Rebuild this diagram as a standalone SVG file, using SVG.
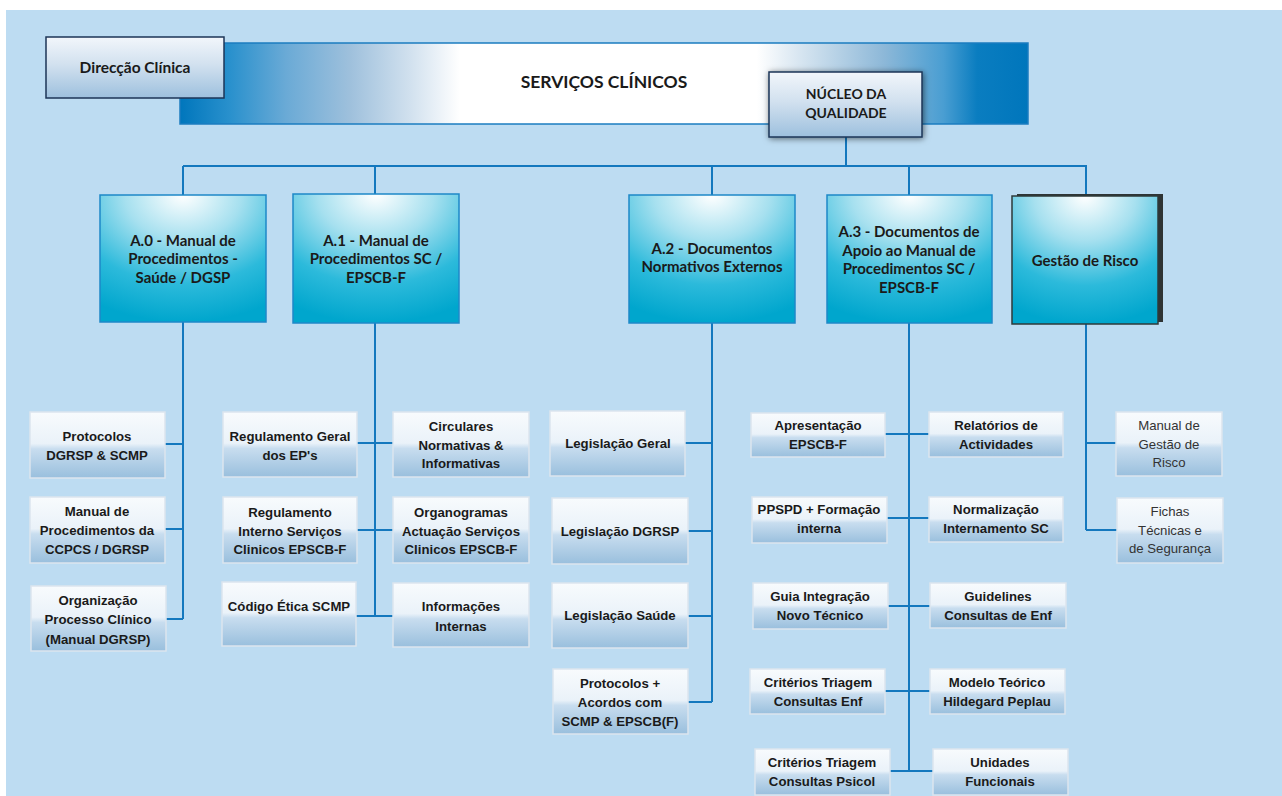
<svg xmlns="http://www.w3.org/2000/svg" width="1282" height="796" viewBox="0 0 1282 796">
<defs>
<linearGradient id="banner" x1="0" y1="0" x2="1" y2="0">
<stop offset="0" stop-color="#0076BC"/>
<stop offset="0.06" stop-color="#2A91CD"/>
<stop offset="0.125" stop-color="#6AAAD6"/>
<stop offset="0.2" stop-color="#9EC0DC"/>
<stop offset="0.27" stop-color="#D0E0EE"/>
<stop offset="0.33" stop-color="#FFFFFF"/>
<stop offset="0.68" stop-color="#FFFFFF"/>
<stop offset="0.73" stop-color="#D8E6F1"/>
<stop offset="0.83" stop-color="#8DB8D8"/>
<stop offset="0.9" stop-color="#4A9ED2"/>
<stop offset="0.94" stop-color="#0A7DC0"/>
<stop offset="1" stop-color="#0076BC"/>
</linearGradient>
<linearGradient id="head" x1="0" y1="0" x2="0" y2="1">
<stop offset="0" stop-color="#F2F6FB"/>
<stop offset="0.45" stop-color="#D2E1EF"/>
<stop offset="1" stop-color="#9DC0DE"/>
</linearGradient>
<radialGradient id="lvl" cx="0.5" cy="0" r="1" fx="0.5" fy="0">
<stop offset="0" stop-color="#FFFFFF"/>
<stop offset="0.35" stop-color="#A6E0EF"/>
<stop offset="0.7" stop-color="#2CBADB"/>
<stop offset="1" stop-color="#00A6CD"/>
</radialGradient>
<linearGradient id="leaf" x1="0" y1="0" x2="0" y2="1">
<stop offset="0" stop-color="#F8FBFD"/>
<stop offset="0.48" stop-color="#EAF2F9"/>
<stop offset="0.56" stop-color="#C8DDEF"/>
<stop offset="1" stop-color="#99BFDD"/>
</linearGradient>
<filter id="sh" x="-20%" y="-20%" width="140%" height="140%">
<feDropShadow dx="1" dy="1" stdDeviation="3" flood-color="#000" flood-opacity="0.55"/>
</filter>
</defs>
<style>
.bg{fill:#BDDCF2}
.head{fill:url(#head);stroke:#1D3557;stroke-width:1.5}
.lvl{fill:url(#lvl);stroke:#1E88C8;stroke-width:1.5}
.leaf{fill:url(#leaf);stroke:#DCE5EE;stroke-width:1.5}
.c{fill:none;stroke:#1478BE;stroke-width:2}
.tc{font-family:Lato,"Open Sans","Liberation Sans",sans-serif;font-weight:bold;fill:#1A1A1A;text-anchor:middle}
.t1{font-size:14px}
.t2{font-size:15px}
.tl{font-family:"Liberation Sans",Arial,sans-serif;font-weight:bold;font-size:13.2px;fill:#1A1A1A;text-anchor:middle}
.tr{font-family:"Liberation Sans",Arial,sans-serif;font-size:13.2px;fill:#333;text-anchor:middle}
</style>
<rect x="0" y="0" width="1282" height="796" fill="#FFFFFF"/>
<rect class="bg" x="6" y="10" width="1276" height="786"/>

<g id="banner-serv">
<rect x="180" y="43" width="848" height="81" fill="url(#banner)" stroke="#1B7CC0" stroke-width="1.5"/>
<text class="tc" x="604" y="88" font-size="17.5">SERVIÇOS CLÍNICOS</text>
</g>

<g id="direccao">
<rect class="head" x="46" y="37" width="178" height="61"/>
<text class="tc" x="135" y="73" font-size="15.5">Direcção Clínica</text>
</g>

<g id="connectors">
<path class="c" d="M846 137V166M183 166H1087M183 166V195M375 166V194M712 166V195M909 166V195M1086 166V196"/>
<path class="c" d="M183 322V619M165 444H183M165 529H183M166 619H183"/>
<path class="c" d="M375 323V616M357 443H393M357 530H393M356 616H393"/>
<path class="c" d="M712 323V702M685 443H712M688 531H712M688 616H712M688 702H712"/>
<path class="c" d="M909 323V771M885 434H929M887 518H929M888 606H930M885 691H930M890 771H933"/>
<path class="c" d="M1086 324V530M1086 443H1116M1086 530H1117"/>
</g>

<g id="nucleo">
<rect class="head" x="769" y="72" width="153" height="65" filter="url(#sh)"/>
<text class="tc t1" x="846" y="99">NÚCLEO DA</text>
<text class="tc t1" x="846" y="118">QUALIDADE</text>
</g>

<g id="a0">
<rect class="lvl" x="100" y="195" width="166" height="127"/>
<text class="tc t2" x="183" y="246">A.0 - Manual de</text>
<text class="tc t2" x="183" y="264">Procedimentos -</text>
<text class="tc t2" x="183" y="283">Saúde / DGSP</text>
</g>
<g id="a1">
<rect class="lvl" x="293" y="194" width="166" height="129"/>
<text class="tc t2" x="376" y="246">A.1 - Manual de</text>
<text class="tc t2" x="376" y="264">Procedimentos SC /</text>
<text class="tc t2" x="376" y="283">EPSCB-F</text>
</g>
<g id="a2">
<rect class="lvl" x="629" y="195" width="166" height="128"/>
<text class="tc t2" x="712" y="254">A.2 - Documentos</text>
<text class="tc t2" x="712" y="272">Normativos Externos</text>
</g>
<g id="a3">
<rect class="lvl" x="827" y="195" width="165" height="128"/>
<text class="tc t2" x="909" y="237">A.3 - Documentos de</text>
<text class="tc t2" x="909" y="256">Apoio ao Manual de</text>
<text class="tc t2" x="909" y="274">Procedimentos SC /</text>
<text class="tc t2" x="909" y="293">EPSCB-F</text>
</g>
<g id="gestao">
<rect x="1017" y="194" width="146" height="128" fill="#2E3435"/>
<rect x="1012" y="196" width="146" height="128" fill="url(#lvl)" stroke="#2E3A3A" stroke-width="1.5"/>
<text class="tc t2" x="1085" y="266">Gestão de Risco</text>
</g>

<g id="a0-1"><rect class="leaf" x="30" y="412" width="135" height="66"/>
<text class="tl" x="97" y="441">Protocolos</text><text class="tl" x="97" y="460">DGRSP &amp; SCMP</text></g>
<g id="a0-2"><rect class="leaf" x="30" y="497" width="135" height="66"/>
<text class="tl" x="97" y="516">Manual de</text><text class="tl" x="97" y="535">Procedimentos da</text><text class="tl" x="97" y="554">CCPCS / DGRSP</text></g>
<g id="a0-3"><rect class="leaf" x="31" y="586" width="135" height="65"/>
<text class="tl" x="98" y="605">Organização</text><text class="tl" x="98" y="624">Processo Clínico</text><text class="tl" x="98" y="644">(Manual DGRSP)</text></g>

<g id="a1-1"><rect class="leaf" x="223" y="412" width="134" height="65"/>
<text class="tl" x="290" y="441">Regulamento Geral</text><text class="tl" x="290" y="460">dos EP's</text></g>
<g id="a1-2"><rect class="leaf" x="393" y="412" width="136" height="65"/>
<text class="tl" x="461" y="431">Circulares</text><text class="tl" x="461" y="450">Normativas &amp;</text><text class="tl" x="461" y="468">Informativas</text></g>
<g id="a1-3"><rect class="leaf" x="223" y="497" width="134" height="66"/>
<text class="tl" x="290" y="517">Regulamento</text><text class="tl" x="290" y="536">Interno Serviços</text><text class="tl" x="290" y="554">Clinicos EPSCB-F</text></g>
<g id="a1-4"><rect class="leaf" x="393" y="497" width="136" height="66"/>
<text class="tl" x="461" y="517">Organogramas</text><text class="tl" x="461" y="536">Actuação Serviços</text><text class="tl" x="461" y="554">Clinicos EPSCB-F</text></g>
<g id="a1-5"><rect class="leaf" x="222" y="582" width="134" height="64"/>
<text class="tl" x="289" y="611">Código Ética SCMP</text></g>
<g id="a1-6"><rect class="leaf" x="393" y="583" width="136" height="64"/>
<text class="tl" x="461" y="611">Informações</text><text class="tl" x="461" y="631">Internas</text></g>

<g id="a2-1"><rect class="leaf" x="550" y="411" width="135" height="65"/>
<text class="tl" x="618" y="448">Legislação  Geral</text></g>
<g id="a2-2"><rect class="leaf" x="552" y="498" width="136" height="66"/>
<text class="tl" x="620" y="536">Legislação  DGRSP</text></g>
<g id="a2-3"><rect class="leaf" x="552" y="583" width="136" height="65"/>
<text class="tl" x="620" y="620">Legislação  Saúde</text></g>
<g id="a2-4"><rect class="leaf" x="553" y="669" width="135" height="65"/>
<text class="tl" x="620" y="688">Protocolos +</text><text class="tl" x="620" y="707">Acordos com</text><text class="tl" x="620" y="726">SCMP &amp; EPSCB(F)</text></g>

<g id="a3-1"><rect class="leaf" x="751" y="413" width="134" height="44"/>
<text class="tl" x="818" y="430">Apresentação</text><text class="tl" x="818" y="449">EPSCB-F</text></g>
<g id="a3-2"><rect class="leaf" x="929" y="412" width="134" height="45"/>
<text class="tl" x="996" y="430">Relatórios de</text><text class="tl" x="996" y="449">Actividades</text></g>
<g id="a3-3"><rect class="leaf" x="752" y="497" width="135" height="46"/>
<text class="tl" x="819" y="514">PPSPD + Formação</text><text class="tl" x="819" y="533">interna</text></g>
<g id="a3-4"><rect class="leaf" x="929" y="497" width="134" height="45"/>
<text class="tl" x="996" y="514">Normalização</text><text class="tl" x="996" y="533">Internamento SC</text></g>
<g id="a3-5"><rect class="leaf" x="753" y="583" width="135" height="46"/>
<text class="tl" x="820" y="601">Guia Integração</text><text class="tl" x="820" y="620">Novo Técnico</text></g>
<g id="a3-6"><rect class="leaf" x="930" y="583" width="136" height="45"/>
<text class="tl" x="998" y="601">Guidelines</text><text class="tl" x="998" y="620">Consultas de Enf</text></g>
<g id="a3-7"><rect class="leaf" x="750" y="669" width="135" height="45"/>
<text class="tl" x="818" y="687">Critérios Triagem</text><text class="tl" x="818" y="706">Consultas  Enf</text></g>
<g id="a3-8"><rect class="leaf" x="930" y="669" width="135" height="45"/>
<text class="tl" x="997" y="687">Modelo  Teórico</text><text class="tl" x="997" y="706">Hildegard Peplau</text></g>
<g id="a3-9"><rect class="leaf" x="755" y="749" width="135" height="46"/>
<text class="tl" x="822" y="767">Critérios Triagem</text><text class="tl" x="822" y="786">Consultas Psicol</text></g>
<g id="a3-10"><rect class="leaf" x="933" y="749" width="135" height="46"/>
<text class="tl" x="1000" y="767">Unidades</text><text class="tl" x="1000" y="786">Funcionais</text></g>

<g id="gr-1"><rect class="leaf" x="1116" y="412" width="106" height="64"/>
<text class="tr" x="1169" y="430">Manual de</text><text class="tr" x="1169" y="449">Gestão de</text><text class="tr" x="1169" y="467">Risco</text></g>
<g id="gr-2"><rect class="leaf" x="1117" y="498" width="106" height="65"/>
<text class="tr" x="1170" y="516">Fichas</text><text class="tr" x="1170" y="535">Técnicas  e</text><text class="tr" x="1170" y="553">de Segurança</text></g>
</svg>
